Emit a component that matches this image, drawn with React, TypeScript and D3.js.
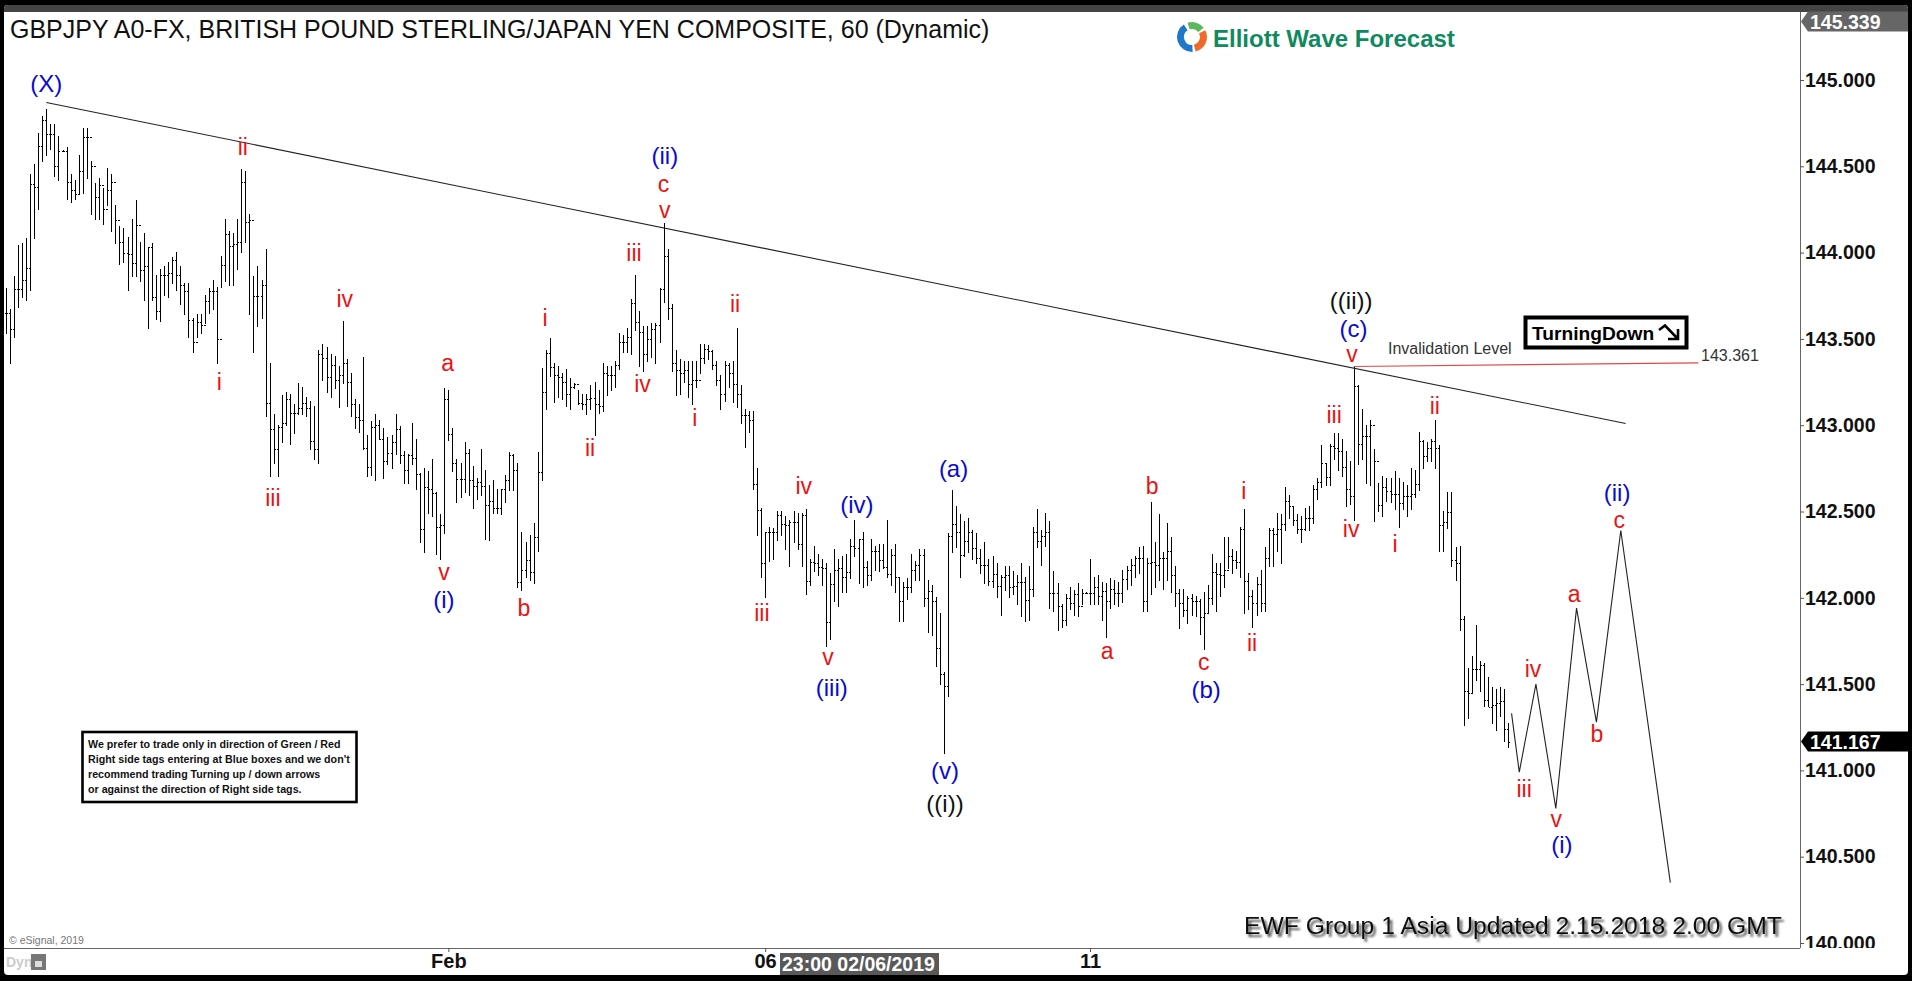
import { useEffect, useRef } from "react";
import * as d3 from "d3";

const highs = [
  143.79,143.67,143.86,144.04,144.05,144.08,144.45,144.51,144.69,144.79,
  144.83,144.74,144.74,144.67,144.59,144.61,144.45,144.42,144.56,144.72,
  144.72,144.53,144.40,144.43,144.37,144.49,144.45,144.27,144.15,144.14,
  144.09,144.19,144.30,144.06,144.11,144.03,144.05,143.87,143.90,143.92,
  143.94,143.97,144.00,143.92,143.82,143.82,143.62,143.64,143.64,143.75,
  143.79,143.84,143.80,143.98,144.19,144.12,144.11,144.19,144.48,144.47,
  144.22,143.86,143.92,143.84,144.02,143.36,143.06,143.00,143.17,143.19,
  143.18,143.12,143.24,143.22,143.16,143.14,143.11,143.43,143.47,143.45,
  143.41,143.40,143.34,143.60,143.38,143.30,143.15,143.12,143.39,142.94,
  143.02,143.06,143.03,142.98,142.93,142.94,143.06,142.99,142.85,142.83,
  143.01,142.92,142.72,142.75,142.73,142.80,142.61,142.48,143.21,143.20,
  142.98,142.80,142.78,142.90,142.86,142.76,142.69,142.86,142.74,142.65,
  142.68,142.63,142.63,142.71,142.84,142.83,142.78,142.38,142.32,142.36,
  142.43,142.84,143.33,143.43,143.50,143.36,143.34,143.30,143.32,143.27,
  143.24,143.20,143.18,143.18,143.23,143.25,143.20,143.36,143.34,143.34,
  143.37,143.53,143.52,143.56,143.73,143.87,143.66,143.57,143.57,143.59,
  143.59,143.79,144.17,144.02,143.70,143.43,143.38,143.37,143.37,143.37,
  143.37,143.47,143.47,143.46,143.43,143.37,143.29,143.37,143.36,143.37,
  143.56,143.23,143.09,143.08,143.08,142.75,142.52,142.38,142.41,142.40,
  142.50,142.50,142.47,142.45,142.50,142.49,142.49,142.51,142.22,142.30,
  142.25,142.22,142.20,142.14,142.28,142.22,142.24,142.25,142.34,142.45,
  142.34,142.38,142.21,142.34,142.30,142.31,142.31,142.45,142.28,142.31,
  142.12,142.09,142.11,142.25,142.21,142.28,142.28,142.10,142.07,142.00,
  141.91,141.57,142.37,142.62,142.53,142.48,142.44,142.46,142.39,142.37,
  142.28,142.32,142.22,142.24,142.20,142.13,142.18,142.18,142.15,142.13,
  142.20,142.12,142.18,142.41,142.51,142.39,142.49,142.44,142.15,142.08,
  141.96,142.02,142.06,142.04,142.08,142.05,142.03,142.22,142.12,142.13,
  142.09,142.08,142.11,142.10,142.09,142.16,142.18,142.22,142.24,142.29,
  142.30,142.23,142.55,142.32,142.48,142.26,142.43,142.35,142.18,142.05,
  142.05,142.01,142.02,142.01,141.99,142.03,142.07,142.25,142.20,142.20,
  142.35,142.35,142.28,142.27,142.41,142.51,142.14,142.04,142.12,142.16,
  142.29,142.40,142.40,142.49,142.48,142.64,142.59,142.53,142.48,142.47,
  142.52,142.53,142.65,142.69,142.88,142.78,142.89,142.95,142.95,142.92,
  142.85,142.79,143.34,143.23,143.09,143.00,143.03,142.86,142.66,142.70,
  142.69,142.69,142.73,142.69,142.67,142.65,142.75,142.74,142.96,142.91,
  142.90,142.92,143.03,142.88,142.50,142.61,142.61,142.29,142.30,141.89,
  141.59,141.66,141.84,141.63,141.62,141.54,141.48,141.47,141.48,141.47,
  141.27,
];

const lows = [
  143.53,143.36,143.51,143.68,143.74,143.72,143.78,144.08,144.25,144.53,
  144.56,144.60,144.44,144.42,144.59,144.31,144.29,144.31,144.34,144.34,
  144.43,144.22,144.19,144.19,144.16,144.27,144.12,144.05,143.93,143.94,
  143.78,143.86,143.86,143.83,143.72,143.56,143.72,143.61,143.60,143.75,
  143.74,143.82,143.78,143.70,143.64,143.51,143.42,143.51,143.53,143.59,
  143.65,143.67,143.36,143.80,143.83,143.81,143.81,143.90,144.00,144.06,
  143.64,143.42,143.57,143.62,143.05,142.70,142.78,142.70,142.90,143.00,
  142.89,142.95,143.06,143.06,143.05,142.86,142.80,142.78,143.26,143.19,
  143.16,143.21,143.10,143.24,143.11,143.05,142.98,142.96,142.86,142.70,
  142.71,142.68,142.92,142.69,142.77,142.75,142.83,142.78,142.66,142.66,
  142.77,142.63,142.32,142.26,142.49,142.47,142.25,142.22,142.37,142.91,
  142.73,142.55,142.58,142.61,142.59,142.52,142.57,142.59,142.34,142.33,
  142.49,142.49,142.48,142.55,142.62,142.62,142.06,142.04,142.12,142.10,
  142.08,142.27,142.68,143.09,143.28,143.13,143.16,143.15,143.11,143.09,
  143.21,143.12,143.09,143.06,143.09,142.94,143.07,143.08,143.17,143.20,
  143.22,143.32,143.42,143.42,143.41,143.55,143.34,143.31,143.37,143.39,
  143.36,143.48,143.71,143.61,143.31,143.17,143.18,143.25,143.16,143.12,
  143.22,143.30,143.36,143.38,143.32,143.23,143.09,143.14,143.22,143.13,
  143.10,143.01,142.87,142.96,142.63,142.36,142.12,142.00,142.21,142.22,
  142.33,142.36,142.28,142.18,142.32,142.28,142.18,142.02,142.07,142.15,
  142.13,142.07,141.72,141.76,141.98,141.95,142.03,142.03,142.11,142.24,
  142.08,142.06,142.07,142.10,142.16,142.15,142.17,142.12,142.07,142.03,
  141.86,141.86,141.99,142.03,142.10,142.10,141.95,141.80,141.78,141.60,
  141.50,141.10,141.43,142.26,142.29,142.12,142.24,142.26,142.22,142.20,
  142.14,142.08,142.07,142.06,142.00,141.90,142.04,142.00,142.02,141.96,
  141.89,141.86,141.87,142.01,142.29,142.19,142.30,141.94,141.92,141.81,
  141.83,141.84,141.93,141.90,141.89,141.96,142.03,141.96,141.96,141.96,
  141.87,141.77,141.94,141.96,141.95,141.97,142.05,142.07,142.12,142.14,
  141.92,141.92,142.02,142.06,142.10,142.05,142.10,142.03,141.95,141.82,
  141.89,141.85,141.90,141.89,141.79,141.70,141.91,141.96,141.92,142.01,
  142.06,142.17,142.14,142.17,142.12,141.91,141.93,141.83,141.90,141.92,
  141.92,142.18,142.18,142.27,142.20,142.39,142.46,142.42,142.37,142.32,
  142.39,142.39,142.43,142.57,142.64,142.65,142.65,142.80,142.74,142.70,
  142.53,142.54,142.45,142.77,142.80,142.66,142.65,142.44,142.50,142.47,
  142.56,142.55,142.51,142.41,142.51,142.47,142.51,142.58,142.62,142.75,
  142.79,142.79,142.75,142.27,142.27,142.40,142.18,142.10,141.81,141.26,
  141.30,141.45,141.52,141.46,141.37,141.37,141.27,141.23,141.31,141.17,
  141.13,
];

const closes = [
  143.65,143.56,143.79,143.79,143.84,143.91,144.40,144.38,144.62,144.77,
  144.69,144.69,144.50,144.59,144.59,144.41,144.36,144.34,144.47,144.67,
  144.67,144.50,144.32,144.39,144.25,144.36,144.41,144.19,144.06,144.00,
  143.99,143.94,144.16,143.90,143.92,144.03,143.74,143.66,143.87,143.87,
  143.88,143.96,143.87,143.81,143.78,143.61,143.48,143.60,143.58,143.72,
  143.78,143.78,143.50,143.93,144.11,144.04,144.05,144.06,144.41,144.18,
  144.19,143.75,143.75,143.81,143.13,142.98,142.86,142.99,143.01,143.15,
  143.07,143.07,143.10,143.13,143.10,142.91,142.86,143.41,143.39,143.28,
  143.35,143.26,143.29,143.36,143.25,143.12,143.05,143.03,142.87,142.76,
  142.99,143.00,142.92,142.79,142.84,142.90,142.98,142.83,142.74,142.83,
  142.81,142.72,142.40,142.64,142.63,142.61,142.41,142.42,143.15,142.95,
  142.78,142.69,142.69,142.84,142.68,142.65,142.67,142.65,142.54,142.56,
  142.52,142.52,142.63,142.68,142.83,142.74,142.09,142.16,142.22,142.15,
  142.35,142.73,143.19,143.42,143.34,143.29,143.28,143.25,143.18,143.22,
  143.24,143.13,143.12,143.15,143.16,143.12,143.11,143.30,143.29,143.29,
  143.35,143.48,143.48,143.51,143.71,143.60,143.54,143.41,143.50,143.56,
  143.58,143.79,143.98,143.68,143.36,143.32,143.30,143.32,143.24,143.26,
  143.26,143.39,143.44,143.43,143.35,143.26,143.18,143.35,143.30,143.24,
  143.18,143.06,143.06,143.03,142.66,142.51,142.20,142.38,142.38,142.38,
  142.48,142.43,142.42,142.44,142.44,142.31,142.48,142.10,142.21,142.20,
  142.18,142.17,141.86,142.08,142.16,142.17,142.12,142.15,142.30,142.29,
  142.34,142.18,142.13,142.27,142.27,142.22,142.18,142.14,142.25,142.12,
  141.98,142.06,142.06,142.16,142.19,142.25,142.00,142.04,141.98,141.71,
  141.56,141.49,142.36,142.43,142.38,142.25,142.33,142.38,142.29,142.23,
  142.19,142.19,142.10,142.14,142.07,142.12,142.13,142.06,142.07,142.09,
  142.09,141.99,142.05,142.38,142.33,142.36,142.38,142.03,142.03,141.95,
  141.87,142.00,141.97,142.02,141.95,142.03,142.03,142.03,142.06,142.01,
  142.04,141.98,142.05,142.03,142.03,142.11,142.16,142.19,142.23,142.23,
  141.98,142.20,142.21,142.19,142.23,142.23,142.27,142.13,142.03,141.97,
  141.93,142.00,141.98,141.98,141.89,141.91,142.00,142.15,142.14,142.13,
  142.16,142.24,142.22,142.21,142.40,142.10,142.01,141.97,142.08,141.97,
  142.23,142.39,142.37,142.40,142.43,142.56,142.53,142.45,142.40,142.40,
  142.46,142.46,142.63,142.67,142.78,142.70,142.88,142.87,142.85,142.76,
  142.63,142.59,143.23,142.89,142.94,142.94,143.00,142.79,142.54,142.64,
  142.62,142.60,142.60,142.55,142.59,142.59,142.60,142.66,142.91,142.82,
  142.87,142.91,142.87,142.42,142.44,142.50,142.22,142.20,141.88,141.46,
  141.45,141.59,141.59,141.61,141.41,141.37,141.38,141.39,141.40,141.24,
  141.167,
];

// axis values
const priceTicks = [145, 144.5, 144, 143.5, 143, 142.5, 142, 141.5, 141, 140.5, 140];
const timeTickBars = [109, 187, 267];
const timeTickLabels = ["Feb", "06", "11"];

// hand drawn forecast path and lines (bar number, price)
const forecastBars = [370.8, 372.7, 376.8, 381.7, 386.8, 391.7, 397.7, 409.9];
const forecastPrices = [141.33, 140.99, 141.5, 140.78, 141.94, 141.28, 142.39, 140.35];
const trendBars = [10, 398.9];
const trendPrices = [144.87, 143.01];
const invalidBars = [331.9, 416.8];
const invalidPrices = [143.34, 143.361];

// wave labels
const waveText = [
  "(X)","ii","i","iii","iv","a","v","(i)","b","i","ii","iii","iv","(ii)","c","v",
  "i","ii","iii","iv","v","(iii)","(iv)","(a)","(v)","((i))","a","b","c","(b)","i","ii",
  "iii","iv","((ii))","(c)","v","ii","i","iii","iv","v","(i)","a","b","c","(ii)",
];
const waveBar = [
  10,58.4,52.6,65.8,83.5,108.8,107.9,107.9,127.6,132.8,143.9,154.7,156.8,162.3,162,162.3,
  169.7,179.6,186.2,196.5,202.5,203.4,209.6,233.4,231.3,231.3,271.2,282.3,295,295.6,304.9,306.9,
  327.1,331.3,331.3,331.9,331.5,351.9,342.1,373.9,376.1,381.8,383.2,386.2,391.8,397.3,396.8,
];
const wavePrice = [
  144.98,144.61,143.25,142.58,143.73,143.36,142.15,141.99,141.94,143.62,142.87,144.0,143.24,144.56,144.4,144.25,
  143.04,143.7,141.91,142.65,141.66,141.48,142.54,142.75,141.0,140.81,141.69,142.65,141.63,141.47,142.62,141.74,
  143.06,142.4,143.72,143.56,143.41,143.11,142.31,140.89,141.59,140.72,140.57,142.02,141.21,142.45,142.61,
];

const noteLines = [
  "We prefer to trade only in direction of Green / Red",
  "Right side tags entering at Blue boxes and we don't",
  "recommend trading Turning up / down arrows",
  "or against the direction of Right side tags.",
];

const font = "'Liberation Sans', Arial, sans-serif";

function waveColor(label: string) {
  if (label.startsWith("((")) return "#111111";
  if (label.startsWith("(")) return "#0a0ad0";
  return "#e81414";
}

export default function App() {
  const ref = useRef<SVGSVGElement>(null);

  useEffect(() => {
    if (!ref.current) return;

    const svg = d3.select(ref.current);
    svg.selectAll("*").remove();

    const width = 1912;
    const height = 981;
    const axisX = 1800;
    const axisY = 948;

    const xScale = d3.scaleLinear().domain([0, closes.length - 1]).range([5.7, 1508.3]);
    const yScale = d3.scaleLinear().domain([145, 140]).range([80, 943]);

    // window frame
    svg.append("rect").attr("width", width).attr("height", height).attr("fill", "#000");
    svg.append("rect").attr("x", 4).attr("y", 5).attr("width", 1904).attr("height", 970).attr("rx", 4).attr("fill", "#fff");
    svg.append("path").attr("d", "M4 12V9a4 4 0 0 1 4-4H1904a4 4 0 0 1 4 4V12Z").attr("fill", "#444");

    const defs = svg.append("defs");
    // clip rect is in the axis group's own coordinates
    defs.append("clipPath").attr("id", "axis-clip")
      .append("rect").attr("x", 0).attr("y", 12).attr("width", 108).attr("height", axisY - 12);
    const shadow = defs.append("filter").attr("id", "text-shadow")
      .attr("x", "-5%").attr("y", "-30%").attr("width", "110%").attr("height", "170%");
    shadow.append("feDropShadow").attr("dx", 2.5).attr("dy", 3).attr("stdDeviation", 1.3)
      .attr("flood-color", "#000").attr("flood-opacity", 0.7);

    // axis lines
    svg.append("line").attr("x1", axisX + 0.5).attr("x2", axisX + 0.5).attr("y1", 12).attr("y2", axisY).attr("stroke", "#666");
    svg.append("line").attr("x1", 4).attr("x2", axisX).attr("y1", axisY + 0.5).attr("y2", axisY + 0.5).attr("stroke", "#666");

    const yAxis = d3.axisRight(yScale)
      .tickValues(priceTicks)
      .tickFormat(d3.format(".3f") as any)
      .tickSize(4)
      .tickPadding(1);
    const yAxisG = svg.append("g")
      .attr("transform", `translate(${axisX}, 0)`)
      .attr("clip-path", "url(#axis-clip)")
      .call(yAxis as any);
    yAxisG.select(".domain").remove();
    yAxisG.selectAll("line").attr("stroke", "#555");
    yAxisG.selectAll("text")
      .attr("font-family", font).attr("font-size", 19.5).attr("font-weight", "bold").attr("fill", "#111");

    const xAxis = d3.axisBottom(xScale)
      .tickValues(timeTickBars)
      .tickFormat((_, i) => timeTickLabels[i])
      .tickSize(4)
      .tickPadding(2);
    const xAxisG = svg.append("g").attr("transform", `translate(0, ${axisY})`).call(xAxis as any);
    xAxisG.select(".domain").remove();
    xAxisG.selectAll("line").attr("stroke", "#555");
    xAxisG.selectAll("text")
      .attr("font-family", font).attr("font-size", 20).attr("font-weight", "bold").attr("fill", "#111");

    // OHLC bars, open tick is the previous close
    const bars = svg.append("g").attr("stroke", "#000").attr("stroke-width", 1).attr("shape-rendering", "crispEdges");
    closes.forEach((close, i) => {
      const x = Math.round(xScale(i)) + 0.5;
      const open = i > 0 ? closes[i - 1] : close;
      bars.append("line").attr("x1", x).attr("x2", x)
        .attr("y1", yScale(highs[i]) - 0.5).attr("y2", yScale(lows[i]) + 0.5);
      bars.append("line").attr("x1", x - 1.5).attr("x2", x)
        .attr("y1", Math.round(yScale(open)) + 0.5).attr("y2", Math.round(yScale(open)) + 0.5);
      bars.append("line").attr("x1", x).attr("x2", x + 1.5)
        .attr("y1", Math.round(yScale(close)) + 0.5).attr("y2", Math.round(yScale(close)) + 0.5);
    });

    // trendline, forecast and invalidation level
    const line = d3.line<number>().x(d => xScale(d));
    svg.append("path")
      .attr("d", line.y((_, i) => yScale(trendPrices[i]))(trendBars))
      .attr("fill", "none").attr("stroke", "#222").attr("stroke-width", 1.1);
    svg.append("path")
      .attr("d", line.y((_, i) => yScale(forecastPrices[i]))(forecastBars))
      .attr("fill", "none").attr("stroke", "#222").attr("stroke-width", 1.1);
    svg.append("path")
      .attr("d", line.y((_, i) => yScale(invalidPrices[i]))(invalidBars))
      .attr("fill", "none").attr("stroke", "#e0484c").attr("stroke-width", 1.2);

    // wave labels
    svg.append("g")
      .attr("font-family", font)
      .attr("text-anchor", "middle")
      .selectAll("text")
      .data(waveText)
      .join("text")
      .attr("x", (_, i) => xScale(waveBar[i]))
      .attr("y", (_, i) => yScale(wavePrice[i]))
      .attr("dy", "0.35em")
      .attr("font-size", d => (d.startsWith("(") ? 24 : 23))
      .attr("fill", d => waveColor(d))
      .text(d => d);

    // title
    svg.append("text")
      .attr("x", 10).attr("y", 38)
      .attr("font-family", font).attr("font-size", 25).attr("fill", "#111")
      .text("GBPJPY A0-FX, BRITISH POUND STERLING/JAPAN YEN COMPOSITE, 60 (Dynamic)");

    // logo
    const logo = svg.append("g").attr("transform", "translate(1192, 37)");
    const swirl = d3.arc<any>().innerRadius(8).outerRadius(15);
    const swirlParts = [
      { startAngle: -0.3, endAngle: 0.9, fill: "#5cb85c" },
      { startAngle: 1.1, endAngle: 2.9, fill: "#ee6a2a" },
      { startAngle: 3.1, endAngle: 5.7, fill: "#1f77c9" },
    ];
    swirlParts.forEach(p => logo.append("path").attr("d", swirl(p) as string).attr("fill", p.fill));
    svg.append("text")
      .attr("x", 1213).attr("y", 46.5)
      .attr("font-family", font).attr("font-size", 24).attr("font-weight", "bold").attr("fill", "#0f8a60")
      .text("Elliott Wave Forecast");

    // right side price tags
    const tag = (price: number, fill: string) => {
      const y = yScale(price);
      svg.append("path")
        .attr("d", `M1801 ${y}L1808 ${y - 10}H1908V${y + 10}H1808Z`)
        .attr("fill", fill);
      svg.append("text")
        .attr("x", 1810).attr("y", y).attr("dy", "0.36em")
        .attr("font-family", font).attr("font-size", 19.5).attr("font-weight", "bold").attr("fill", "#fff")
        .text(d3.format(".3f")(price));
    };
    tag(145.339, "#666");
    tag(closes[closes.length - 1], "#000");

    // invalidation text and TurningDown box
    svg.append("text").attr("x", 1388).attr("y", 354)
      .attr("font-family", font).attr("font-size", 16).attr("fill", "#333")
      .text("Invalidation Level");
    svg.append("text").attr("x", 1701).attr("y", 361)
      .attr("font-family", font).attr("font-size", 16).attr("fill", "#333")
      .text(d3.format(".3f")(invalidPrices[1]));

    svg.append("rect").attr("x", 1525.5).attr("y", 317.5).attr("width", 161).attr("height", 30)
      .attr("fill", "#fff").attr("stroke", "#000").attr("stroke-width", 4);
    svg.append("text").attr("x", 1532).attr("y", 340)
      .attr("font-family", font).attr("font-size", 19.2).attr("font-weight", "bold").attr("fill", "#000")
      .text("TurningDown");
    svg.append("path").attr("d", "M1659 330L1665 325.5L1678 339M1678 329V339H1668")
      .attr("fill", "none").attr("stroke", "#000").attr("stroke-width", 2.6);

    // note box
    svg.append("rect").attr("x", 82.5).attr("y", 732).attr("width", 274).attr("height", 70)
      .attr("fill", "#fff").attr("stroke", "#000").attr("stroke-width", 2.6);
    svg.append("g")
      .attr("font-family", font).attr("font-size", 11.8).attr("font-weight", "bold").attr("fill", "#111")
      .selectAll("text")
      .data(noteLines)
      .join("text")
      .attr("transform", (_, i) => `translate(88, ${747.5 + i * 15.2}) scale(0.905, 1)`)
      .text(d => d);

    // footer text
    svg.append("text").attr("x", 1244).attr("y", 934)
      .attr("font-family", font).attr("font-size", 24.7).attr("fill", "#111")
      .attr("filter", "url(#text-shadow)")
      .text("EWF Group 1 Asia Updated 2.15.2018 2.00 GMT");

    svg.append("text").attr("x", 9).attr("y", 944)
      .attr("font-family", font).attr("font-size", 10.5).attr("fill", "#777")
      .text("© eSignal, 2019");
    svg.append("text").attr("x", 6).attr("y", 967)
      .attr("font-family", font).attr("font-size", 14).attr("font-weight", "bold").attr("fill", "#ccc")
      .text("Dyn");
    svg.append("rect").attr("x", 31).attr("y", 954).attr("width", 15).attr("height", 16).attr("fill", "#777");
    svg.append("rect").attr("x", 35).attr("y", 961).attr("width", 7).attr("height", 6).attr("fill", "#ddd");

    // crosshair time label
    svg.append("rect").attr("x", 780).attr("y", 953).attr("width", 159).attr("height", 22).attr("fill", "#595959");
    svg.append("text").attr("x", 782).attr("y", 971)
      .attr("font-family", font).attr("font-size", 19.5).attr("font-weight", "bold").attr("fill", "#fff")
      .text("23:00 02/06/2019");
  }, []);

  return (
    <svg
      ref={ref}
      width={1912}
      height={981}
      style={{ position: "absolute", left: 0, top: 0, display: "block" }}
    />
  );
}
